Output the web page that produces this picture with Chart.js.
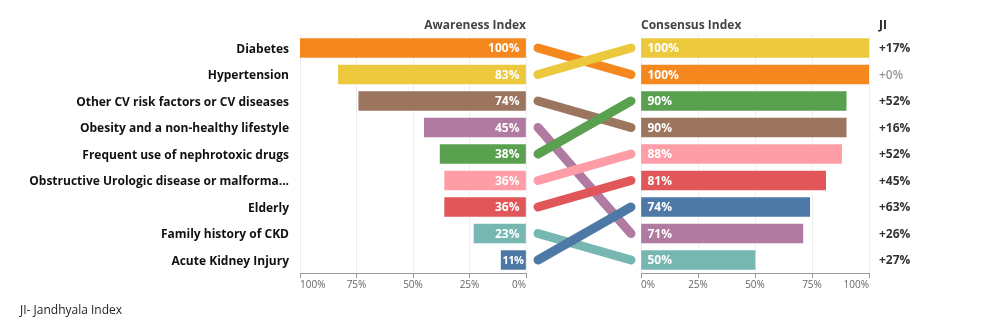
<!DOCTYPE html>
<html>
<head>
<meta charset="utf-8">
<script src="https://cdn.jsdelivr.net/npm/chart.js@4"></script>
<style>
  html,body{margin:0;padding:0;background:#fff;}
  #wrap{position:relative;width:999px;height:328px;overflow:hidden;}
  #wrap canvas{position:absolute;left:0;top:0;}
  #note{position:absolute;left:20px;top:301px;font:12px "Open Sans",sans-serif;color:#222;}
</style>
</head>
<body>
<div id="wrap">
  <canvas id="left" width="999" height="328"></canvas>
  <canvas id="right" width="999" height="328"></canvas>
  <canvas id="links" width="999" height="328"></canvas>
  <div id="note">JI- Jandhyala Index</div>
</div>
<script>
const categories = ['Diabetes','Hypertension','Other CV risk factors or CV diseases','Obesity and a non-healthy lifestyle',
  'Frequent use of nephrotoxic drugs','Obstructive Urologic disease or malforma...','Elderly','Family history of CKD','Acute Kidney Injury'];
const awareness = [100,83,74,45,38,36,36,23,11];
const consensus = [100,100,90,71,90,88,81,50,74];      // same order as categories
const consensusOrder = [1,0,4,2,5,6,8,3,7];            // category shown on each right-hand row
const jiValues = [17,0,52,16,52,45,63,26,27];          // per right-hand row
const colors = ['#F5871F','#ECC83C','#9C755F','#B07AA1','#59A14F','#FF9DA7','#E15759','#76B7B2','#4E79A7'];
const lineOrder = [9,5,7,8,4,3,2,6,1];                 // lower = drawn on top
const tickStep = 25;

Chart.defaults.font.family = '"Open Sans", sans-serif';
Chart.defaults.animation = false;

const TOP = 34.75, ROWS_H = 238.5, AXIS_H = 20;
const BOTTOM = 328 - TOP - ROWS_H - AXIS_H;

const barLabels = {
  id:'barLabels',
  afterDatasetsDraw(chart, args, opts){
    const ctx=chart.ctx, meta=chart.getDatasetMeta(0), vals=chart.data.datasets[0].data;
    ctx.save();
    ctx.fillStyle='#fff'; ctx.textBaseline='middle';
    meta.data.forEach((bar,i)=>{
      const txt=vals[i]+'%', w=Math.abs(bar.base-bar.x);
      ctx.font='bold 12px "Open Sans"'; ctx.letterSpacing='0px';
      let pad=6;
      if(ctx.measureText(txt).width+pad > w){ ctx.font='bold 11px "Open Sans"'; ctx.letterSpacing='-0.5px'; pad=2; }
      if(opts.side==='left'){ ctx.textAlign='right'; ctx.fillText(txt, bar.base-pad, bar.y+1); }
      else { ctx.textAlign='left'; ctx.fillText(txt, bar.base+pad, bar.y+1); }
    });
    ctx.letterSpacing='0px';
    // header
    ctx.font='bold 12px "Open Sans"'; ctx.fillStyle='#444'; ctx.textBaseline='alphabetic';
    const a=chart.chartArea;
    if(opts.side==='left'){ ctx.textAlign='right'; ctx.fillText('Awareness Index', a.right, 29); }
    else {
      ctx.textAlign='left'; ctx.fillText('Consensus Index', a.left, 29);
      ctx.fillStyle='#222'; ctx.fillText('JI', a.right+10, 29);
      ctx.textBaseline='middle';
      meta.data.forEach((bar,i)=>{
        const v=jiValues[i];
        ctx.font=(v===0?'600 12px':'bold 12px')+' "Open Sans"';
        ctx.fillStyle=v===0?'#999':'#333';
        ctx.fillText('+'+v+'%', a.right+10, bar.y+1);
      });
    }
    ctx.restore();
  }
};

const xAxis = (reverse)=>({
  type:'linear', min:0, max:100, reverse,
  ticks:{stepSize:tickStep, callback:v=>v+'%', color:'#666', font:{size:10}, padding:1, align:'inner'},
  grid:{color:'#eeeeee', tickColor:'#999', tickLength:5},
  border:{color:'#999'},
  afterBuildTicks(s){ if(reverse) s.ticks.reverse(); },
  afterFit(s){ s.height=AXIS_H; }
});

new Chart(document.getElementById('left'),{
  type:'bar',
  data:{labels:categories, datasets:[{data:awareness, backgroundColor:colors, barThickness:19}]},
  options:{
    responsive:false, indexAxis:'y',
    layout:{padding:{top:TOP, bottom:BOTTOM, left:0, right:999-526}},
    plugins:{legend:{display:false}, tooltip:{enabled:false}, barLabels:{side:'left'}},
    scales:{
      x:xAxis(true),
      y:{grid:{display:false, drawTicks:false}, border:{display:false},
         ticks:{color:'#111', font:{size:12, weight:'bold'}, padding:11, labelOffset:1.5},
         afterFit(s){ s.width=300; }}
    }
  },
  plugins:[barLabels]
});

new Chart(document.getElementById('right'),{
  type:'bar',
  data:{labels:consensusOrder.map(i=>categories[i]),
        datasets:[{data:consensusOrder.map(i=>consensus[i]), backgroundColor:consensusOrder.map(i=>colors[i]), barThickness:19}]},
  options:{
    responsive:false, indexAxis:'y',
    layout:{padding:{top:TOP, bottom:BOTTOM, left:641, right:999-869}},
    plugins:{legend:{display:false}, tooltip:{enabled:false}, barLabels:{side:'right'}},
    scales:{ x:xAxis(false), y:{display:false} }
  },
  plugins:[barLabels]
});

new Chart(document.getElementById('links'),{
  type:'line',
  data:{datasets:categories.map((c,i)=>({
    label:c,
    data:[{x:0,y:i},{x:1,y:consensusOrder.indexOf(i)}],
    borderColor:colors[i], borderWidth:9, borderCapStyle:'round',
    pointRadius:0, fill:false, clip:false, order:lineOrder[i]
  }))},
  options:{
    responsive:false,
    layout:{padding:{top:TOP, bottom:328-TOP-ROWS_H, left:538, right:999-631}},
    plugins:{legend:{display:false}, tooltip:{enabled:false}},
    scales:{
      x:{type:'linear', min:0, max:1, display:false},
      y:{type:'linear', min:-0.5, max:8.5, reverse:true, display:false}
    }
  }
});
</script>
</body>
</html>
